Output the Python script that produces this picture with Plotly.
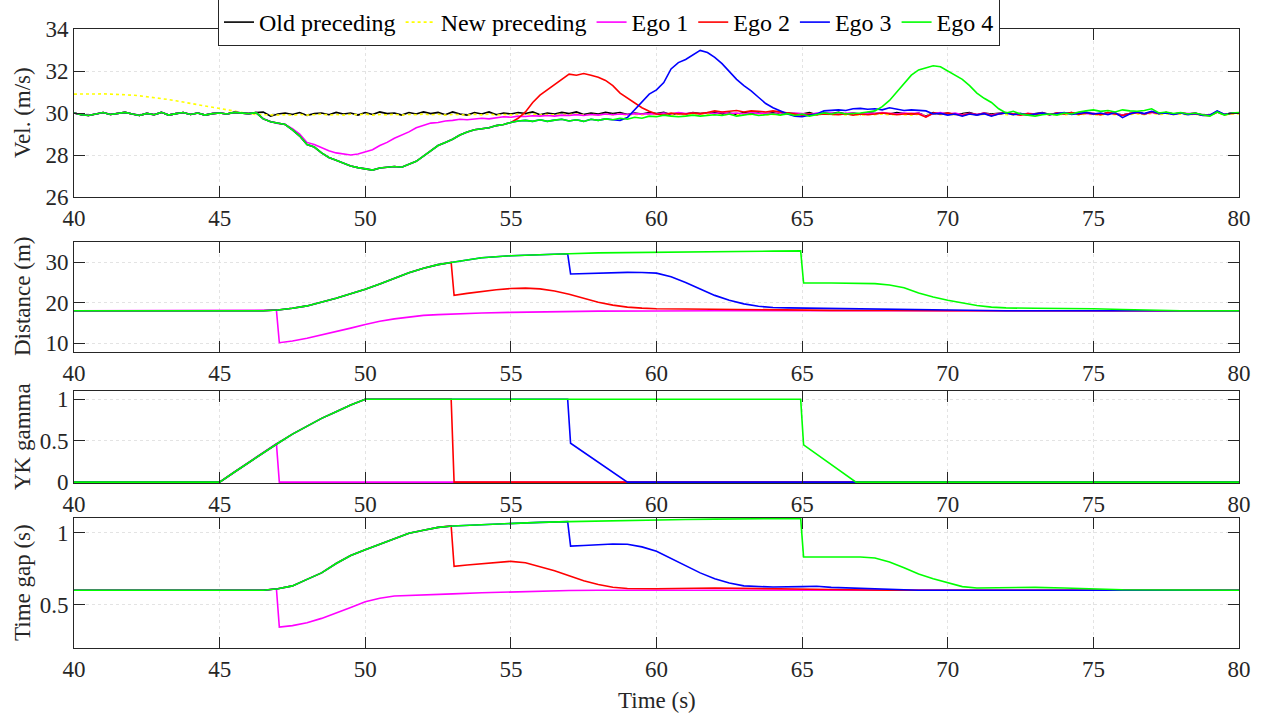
import plotly.graph_objects as go
from plotly.subplots import make_subplots

# ---------------- data ----------------
T_VEL = [round(40 + 0.25 * i, 2) for i in range(161)]

VEL_OLD = [
    30.00, 29.92, 29.88, 29.95, 30.02, 29.93, 29.97, 30.03, 29.95, 29.88, 29.98, 29.92,
    30.03, 29.90, 29.97, 30.02, 29.93, 30.00, 29.90, 29.97, 30.00, 29.95, 30.03, 30.00,
    29.97, 30.02, 30.05, 29.85, 29.95, 30.00, 29.93, 30.02, 29.88, 29.97, 30.00, 29.92,
    30.03, 29.95, 30.00, 29.90, 30.02, 29.93, 30.05, 29.97, 30.00, 29.90, 30.02, 29.95,
    30.05, 29.97, 30.03, 29.92, 30.05, 29.95, 29.90, 30.02, 29.95, 30.05, 29.92, 30.00,
    29.95, 30.02, 29.97, 30.05, 29.92, 30.00, 29.95, 30.03, 29.97, 30.05, 29.93, 30.00,
    29.95, 30.03, 29.97, 30.02, 29.93, 30.00, 29.95, 30.02, 29.97, 30.03, 29.92, 30.00,
    29.95, 30.02, 29.97, 30.00, 30.03, 29.95, 30.00, 29.93, 30.02, 29.97, 30.00, 29.95,
    30.02, 29.93, 30.00, 29.97, 29.95, 30.02, 29.92, 30.00, 29.97, 30.03, 29.95, 30.00,
    29.93, 30.02, 29.97, 30.00, 29.95, 30.02, 29.97, 29.93, 30.00, 29.85, 30.02, 29.95,
    30.00, 29.93, 29.97, 30.02, 29.92, 30.00, 29.95, 29.98, 30.02, 29.95, 29.97, 29.92,
    29.97, 30.02, 29.93, 30.00, 29.97, 30.02, 29.95, 30.00, 29.97, 29.93, 30.02, 29.95,
    29.90, 29.97, 30.03, 29.95, 30.05, 29.97, 30.02, 29.95, 30.00, 29.95, 29.98, 29.90,
    29.88, 30.08, 29.93, 30.00, 30.00,
]

VEL_NEW = [
    30.90, 30.91, 30.92, 30.92, 30.91, 30.90, 30.89, 30.87, 30.85, 30.82, 30.78, 30.74,
    30.69, 30.64, 30.58, 30.52, 30.45, 30.38, 30.32, 30.26, 30.19, 30.13, 30.07, 30.02,
    29.97, 29.93, 29.91, 29.90, 29.90, 29.92, 29.89, 29.93, 29.90, 29.92, 29.95, 29.90,
    29.93, 29.90, 29.94, 29.91, 29.95, 29.90, 29.93, 29.91, 29.94, 29.90, 29.93, 29.92,
    29.95, 29.91, 29.94, 29.90, 29.93, 29.92, 29.90, 29.94, 29.91, 29.95, 29.90, 29.93,
    29.91, 29.94, 29.92, 29.95, 29.90, 29.93, 29.91, 29.94, 29.92, 29.95, 29.90, 29.93,
    29.91, 29.94, 29.92, 29.95, 29.90, 29.93, 29.91, 29.94, 29.92, 29.95, 29.90, 29.93,
    29.91, 29.94, 29.92, 29.95, 29.93, 29.90, 29.94, 29.91, 29.95, 29.92, 29.94, 29.90,
    29.93, 29.91, 29.95, 29.92, 29.90, 29.94, 29.91, 29.95, 29.92, 29.95, 29.91, 29.94,
    29.90, 29.93, 29.92, 29.95, 29.91, 29.94, 29.92, 29.90, 29.94, 29.88, 29.95, 29.92,
    29.95, 29.91, 29.93, 29.95, 29.90, 29.94, 29.92, 29.95, 29.93, 29.91, 29.94, 29.90,
    29.93, 29.95, 29.91, 29.94, 29.92, 29.95, 29.91, 29.94, 29.93, 29.90, 29.95, 29.92,
    29.89, 29.93, 29.96, 29.92, 29.98, 29.93, 29.95, 29.92, 29.95, 29.92, 29.94, 29.89,
    29.88, 30.02, 29.91, 29.95, 29.95,
]

VEL_EGO4 = [
    30.00, 29.92, 29.88, 29.95, 30.02, 29.93, 29.97, 30.03, 29.95, 29.88, 29.98, 29.92,
    30.03, 29.90, 29.97, 30.02, 29.93, 30.00, 29.90, 29.97, 30.00, 29.95, 30.03, 30.00,
    29.97, 30.02, 29.72, 29.58, 29.50, 29.45, 29.20, 28.90, 28.50, 28.38, 28.10, 27.88,
    27.75, 27.60, 27.48, 27.40, 27.35, 27.28, 27.38, 27.42, 27.45, 27.42, 27.55, 27.70,
    27.95, 28.20, 28.45, 28.60, 28.75, 28.95, 29.10, 29.20, 29.25, 29.30, 29.40, 29.45,
    29.55, 29.62, 29.65, 29.60, 29.68, 29.60, 29.66, 29.70, 29.62, 29.68, 29.60, 29.70,
    29.65, 29.72, 29.68, 29.75, 29.70, 29.80, 29.75, 29.85, 29.82, 29.90, 29.85, 29.82,
    29.85, 29.90, 29.85, 29.88, 29.92, 29.88, 29.95, 29.85, 29.90, 29.95, 29.88, 29.93,
    29.95, 29.90, 29.97, 29.88, 29.95, 29.85, 29.93, 30.00, 29.95, 30.02, 29.95, 29.97,
    30.00, 30.05, 30.10, 30.30, 30.60, 31.00, 31.40, 31.80, 32.05, 32.15, 32.25, 32.20,
    32.00, 31.80, 31.60, 31.30, 30.95, 30.70, 30.50, 30.20, 30.00, 30.08, 29.95, 29.90,
    29.85, 29.92, 29.95, 29.90, 30.00, 29.95, 30.05, 30.10, 30.15, 30.08, 30.12, 30.05,
    30.15, 30.10, 30.08, 30.12, 30.20, 30.00, 30.05, 29.98, 30.02, 29.95, 30.00, 29.92,
    29.85, 30.05, 29.90, 30.00, 30.02,
]

# Ego 1 from t = 46.75 s
VEL_EGO1_TAIL = [
    29.60,
    29.50, 29.45, 29.25, 29.00, 28.60, 28.50, 28.35, 28.20, 28.10, 28.05, 28.00, 28.05,
    28.15, 28.25, 28.45, 28.60, 28.80, 28.95, 29.10, 29.30, 29.40, 29.52, 29.55, 29.62,
    29.65, 29.70, 29.68, 29.72, 29.75, 29.72, 29.78, 29.82, 29.80, 29.85, 29.83, 29.87,
    29.85, 29.88, 29.85, 29.90, 29.88, 29.92, 29.88, 29.93, 29.90, 29.95, 29.92, 29.95,
    29.93, 29.97, 29.95, 29.97, 29.95, 30.00, 29.95, 30.02, 29.97, 30.00, 29.95, 30.02,
    29.98, 30.03, 29.97, 30.00, 29.95, 30.02, 29.97, 30.00, 29.97, 30.02, 29.95, 30.00,
    29.97, 29.93, 30.00, 29.95, 30.00, 29.95, 29.98, 30.00, 29.95, 30.00, 29.97, 30.02,
    29.98, 29.95, 30.00, 29.97, 30.00, 29.82, 29.98, 30.02, 29.95, 30.00, 29.92, 29.98,
    29.93, 30.00, 29.90, 29.97, 30.00, 29.95, 29.92, 29.98, 29.95, 30.00, 29.93, 29.98,
    30.00, 29.95, 30.02, 29.97, 29.98, 29.93, 30.00, 29.95, 29.90, 29.98, 30.02, 29.95,
    30.03, 29.98, 30.00, 29.95, 30.00, 29.97, 29.98, 29.92, 29.90, 30.05, 29.93, 30.00,
    30.00,
]

# Ego 2 from t = 55.25 s
VEL_EGO2_TAIL = [
    29.75, 30.05, 30.50,
    30.85, 31.10, 31.35, 31.60, 31.85, 31.80, 31.88, 31.80, 31.70, 31.55, 31.30, 30.95,
    30.72, 30.50, 30.25, 30.08, 29.95, 29.92, 30.00, 29.95, 29.95, 30.00, 29.97, 30.02,
    30.10, 30.05, 30.08, 30.12, 30.05, 30.10, 30.08, 30.05, 30.10, 30.05, 30.00, 29.95,
    29.90, 29.95, 29.92, 29.95, 29.95, 29.92, 29.97, 29.90, 29.95, 29.92, 29.95, 30.00,
    29.97, 29.92, 29.95, 29.97, 29.95, 29.80, 30.00, 29.95, 30.00, 29.95, 29.88, 29.97,
    29.92, 29.98, 29.88, 29.95, 30.00, 29.95, 29.90, 29.97, 29.93, 29.98, 29.92, 30.00,
    29.95, 30.02, 29.93, 30.00, 29.97, 29.92, 30.02, 29.95, 29.88, 29.97, 30.02, 29.95,
    30.05, 29.98, 30.02, 29.95, 30.00, 29.95, 29.98, 29.90, 29.88, 30.05, 29.92, 29.98,
    30.00,
]

# Ego 3 from t = 58.75 s
VEL_EGO3_TAIL = [
    29.65,
    29.78, 30.15, 30.50, 30.90, 31.10, 31.45, 32.10, 32.40, 32.55, 32.75, 32.98, 32.88,
    32.65, 32.35, 31.95, 31.60, 31.30, 31.05, 30.75, 30.45, 30.25, 30.10, 29.95, 29.85,
    29.82, 29.90, 29.95, 30.10, 30.12, 30.15, 30.12, 30.20, 30.22, 30.18, 30.20, 30.15,
    30.25, 30.18, 30.12, 30.15, 30.12, 30.10, 29.95, 29.98, 29.90, 29.95, 29.85, 29.95,
    29.90, 29.97, 29.85, 29.95, 30.00, 29.92, 29.97, 29.90, 29.95, 30.00, 29.92, 29.97,
    30.02, 29.93, 29.98, 30.03, 29.95, 30.00, 29.92, 30.02, 29.78, 29.95, 30.05, 29.97,
    30.08, 29.98, 30.00, 29.93, 30.00, 29.92, 29.98, 29.88, 29.90, 30.10, 29.93, 30.00,
    30.00,
]

VEL_EGO1 = VEL_EGO4[:27] + VEL_EGO1_TAIL
VEL_EGO2 = VEL_EGO4[:61] + VEL_EGO2_TAIL
VEL_EGO3 = VEL_EGO4[:75] + VEL_EGO3_TAIL

# Distance (m)
DIST_T_EGO1 = [40, 46.5, 46.95, 47.05, 47.5, 48, 48.5, 49, 49.5, 50, 50.5, 51, 51.5, 52, 52.5,
               53, 54, 55, 56, 57, 58, 60, 62, 80]
DIST_EGO1 = [18.0, 18.0, 18.15, 10.1, 10.5, 11.2, 12.0, 12.8, 13.7, 14.6, 15.4, 16.0, 16.5,
             16.85, 17.05, 17.2, 17.45, 17.6, 17.75, 17.85, 17.9, 17.95, 18.0, 18.0]

DIST_T_EGO2 = [40, 46.5, 47, 47.5, 48, 48.5, 49, 49.5, 50, 50.5, 51, 51.5, 52, 52.5, 52.95,
               53.05, 53.5, 54, 54.5, 55, 55.5, 56, 56.5, 57, 57.5, 58, 58.5, 59, 59.5, 60,
               61, 62, 63, 64, 65, 66, 68, 70, 80]
DIST_EGO2 = [18.0, 18.0, 18.2, 18.6, 19.2, 20.1, 21.1, 22.2, 23.3, 24.6, 26.0, 27.4, 28.5,
             29.4, 29.95, 21.8, 22.3, 22.8, 23.2, 23.5, 23.6, 23.4, 22.9, 22.1, 21.1, 20.1,
             19.4, 18.9, 18.65, 18.5, 18.45, 18.35, 18.3, 18.2, 18.1, 18.1, 18.05, 18.0, 18.0]

DIST_T_EGO3 = [40, 46.5, 47, 47.5, 48, 48.5, 49, 49.5, 50, 50.5, 51, 51.5, 52, 52.5, 53, 53.5,
               54, 55, 56, 56.95, 57.05, 57.5, 58, 58.5, 59, 59.5, 60, 60.5, 61, 61.5, 62,
               62.5, 63, 63.5, 64, 64.5, 65, 66, 67, 68, 69, 70, 72, 80]
DIST_EGO3 = [18.0, 18.0, 18.2, 18.6, 19.2, 20.1, 21.1, 22.2, 23.3, 24.6, 26.0, 27.4, 28.5,
             29.4, 30.0, 30.6, 31.1, 31.6, 31.9, 32.08, 27.1, 27.2, 27.35, 27.45, 27.5, 27.45,
             27.3, 26.4, 25.0, 23.4, 21.8, 20.6, 19.7, 19.1, 18.8, 18.7, 18.65, 18.65, 18.55,
             18.35, 18.2, 18.08, 18.0, 18.0]

DIST_T_EGO4 = [40, 46.5, 47, 47.5, 48, 48.5, 49, 49.5, 50, 50.5, 51, 51.5, 52, 52.5, 53, 53.5,
               54, 55, 56, 57, 58, 59, 60, 62, 64, 64.95, 65.05, 66, 67, 67.5, 68, 68.5, 69,
               69.5, 70, 70.5, 71, 71.5, 72, 73, 74, 75, 76, 77, 78, 80]
DIST_EGO4 = [18.0, 18.0, 18.2, 18.6, 19.2, 20.1, 21.1, 22.2, 23.3, 24.6, 26.0, 27.4, 28.5,
             29.4, 30.0, 30.6, 31.1, 31.6, 31.9, 32.1, 32.3, 32.4, 32.5, 32.65, 32.75, 32.8,
             24.85, 24.85, 24.8, 24.7, 24.35, 23.7, 22.4, 21.4, 20.6, 19.9, 19.3, 18.9, 18.7,
             18.6, 18.6, 18.5, 18.3, 18.1, 18.0, 18.0]

# YK gamma
GAM_RISE_T = [40, 45, 45.5, 46, 46.5, 47, 47.5, 48, 48.5, 49, 49.5, 50]
GAM_RISE = [0, 0, 0.12, 0.24, 0.36, 0.47, 0.58, 0.68, 0.77, 0.85, 0.93, 1.0]
GAM_T_EGO1 = [40, 45, 45.5, 46, 46.5, 46.95, 47.05, 80]
GAM_EGO1 = [0, 0, 0.12, 0.24, 0.36, 0.465, 0, 0]
GAM_T_EGO2 = GAM_RISE_T + [52.95, 53.05, 80]
GAM_EGO2 = GAM_RISE + [1.0, 0, 0]
GAM_T_EGO3 = GAM_RISE_T + [56.95, 57.05, 59.0, 80]
GAM_EGO3 = GAM_RISE + [1.0, 0.47, 0, 0]
GAM_T_EGO4 = GAM_RISE_T + [64.95, 65.05, 66.85, 80]
GAM_EGO4 = GAM_RISE + [1.0, 0.45, 0, 0]

# Time gap (s)
TG_T_EGO1 = [40, 46.5, 46.95, 47.05, 47.5, 48, 48.5, 49, 49.5, 50, 50.5, 51, 51.5, 52, 53, 54,
             55, 56, 57, 58, 80]
TG_EGO1 = [0.6, 0.6, 0.61, 0.345, 0.355, 0.375, 0.405, 0.44, 0.48, 0.52, 0.545, 0.56, 0.565,
           0.57, 0.575, 0.582, 0.588, 0.593, 0.598, 0.6, 0.6]
TG_T_EGO2 = [40, 46.5, 47, 47.5, 48, 48.5, 49, 49.5, 50, 50.5, 51, 51.5, 52, 52.5, 52.95, 53.05,
             53.5, 54, 54.5, 55, 55.5, 56, 56.5, 57, 57.5, 58, 58.5, 59, 60, 62, 64, 66, 68, 80]
TG_EGO2 = [0.6, 0.6, 0.61, 0.63, 0.675, 0.72, 0.785, 0.84, 0.88, 0.92, 0.96, 0.995, 1.015,
           1.035, 1.045, 0.765, 0.775, 0.785, 0.795, 0.8, 0.79, 0.765, 0.735, 0.7, 0.665, 0.64,
           0.62, 0.612, 0.61, 0.615, 0.612, 0.605, 0.6, 0.6]
TG_T_EGO3 = [40, 46.5, 47, 47.5, 48, 48.5, 49, 49.5, 50, 50.5, 51, 51.5, 52, 52.5, 53, 54, 55,
             56, 56.95, 57.05, 57.5, 58, 58.5, 59, 59.5, 60, 60.5, 61, 61.5, 62, 62.5, 63, 64,
             65, 65.5, 66, 67, 68, 69, 80]
TG_EGO3 = [0.6, 0.6, 0.61, 0.63, 0.675, 0.72, 0.785, 0.84, 0.88, 0.92, 0.96, 0.995, 1.015,
           1.035, 1.045, 1.055, 1.065, 1.07, 1.075, 0.905, 0.91, 0.915, 0.92, 0.918, 0.9, 0.87,
           0.82, 0.77, 0.72, 0.68, 0.65, 0.63, 0.622, 0.625, 0.627, 0.62, 0.612, 0.605, 0.6, 0.6]
TG_T_EGO4 = [40, 46.5, 47, 47.5, 48, 48.5, 49, 49.5, 50, 50.5, 51, 51.5, 52, 52.5, 53, 54, 55,
             56, 57, 58, 59, 60, 61, 62, 63, 64, 64.95, 65.05, 66, 67, 67.5, 68, 68.5, 69, 69.5,
             70, 70.5, 71, 72, 73, 74, 75, 76, 80]
TG_EGO4 = [0.6, 0.6, 0.61, 0.63, 0.675, 0.72, 0.785, 0.84, 0.88, 0.92, 0.96, 0.995, 1.015,
           1.035, 1.045, 1.055, 1.065, 1.07, 1.075, 1.08, 1.085, 1.088, 1.09, 1.092, 1.094,
           1.096, 1.097, 0.83, 0.83, 0.83, 0.823, 0.795, 0.755, 0.712, 0.68, 0.65, 0.625,
           0.615, 0.62, 0.62, 0.615, 0.61, 0.603, 0.6]

NAMES = ["Old preceding", "New preceding", "Ego 1", "Ego 2", "Ego 3", "Ego 4"]
COLORS = ["#000000", "#FFFF00", "#FF00FF", "#FF0000", "#0000FF", "#00FF00"]
Y_TITLES = ["Vel. (m/s)", "Distance (m)", "YK gamma", "Time gap (s)"]
Y_RANGES = [[26, 34], [7.8, 35], [-0.01, 1.1], [0.2, 1.1]]
Y_TICKS = [[26, 28, 30, 32, 34], [10, 20, 30], [0, 0.5, 1], [0.5, 1]]
X_TICKS = [40, 45, 50, 55, 60, 65, 70, 75, 80]

# ---------------- figure ----------------
FONT = "Liberation Serif"
FS = 23
W, H = 1264, 720
ML, MR, MT, MB = 74, 25, 29, 72
PH = H - MT - MB
PW = W - ML - MR

def dom(top_px, bot_px):
    return [(H - MB - bot_px) / PH, (H - MB - top_px) / PH]

DOMAINS = [dom(29, 197), dom(242, 352), dom(391, 483), dom(518, 648)]

fig = make_subplots(rows=4, cols=1)
LW = 1.6

vel_series = [VEL_OLD, VEL_NEW, VEL_EGO1, VEL_EGO2, VEL_EGO3, VEL_EGO4]
for i, ys in enumerate(vel_series):
    fig.add_trace(go.Scatter(
        x=T_VEL, y=ys, mode="lines", name=NAMES[i],
        line=dict(color=COLORS[i], width=LW, dash="dot" if i == 1 else "solid"),
        showlegend=True), row=1, col=1)

panel_data = [
    [(DIST_T_EGO1, DIST_EGO1), (DIST_T_EGO2, DIST_EGO2), (DIST_T_EGO3, DIST_EGO3), (DIST_T_EGO4, DIST_EGO4)],
    [(GAM_T_EGO1, GAM_EGO1), (GAM_T_EGO2, GAM_EGO2), (GAM_T_EGO3, GAM_EGO3), (GAM_T_EGO4, GAM_EGO4)],
    [(TG_T_EGO1, TG_EGO1), (TG_T_EGO2, TG_EGO2), (TG_T_EGO3, TG_EGO3), (TG_T_EGO4, TG_EGO4)],
]
for p, series in enumerate(panel_data):
    for k, (tx, ty) in enumerate(series):
        fig.add_trace(go.Scatter(
            x=tx, y=ty, mode="lines", name=NAMES[k + 2],
            line=dict(color=COLORS[k + 2], width=LW), showlegend=False), row=p + 2, col=1)

AX = "#262626"
GRID = "#e3e3e3"
for r in range(4):
    xa = "xaxis" if r == 0 else f"xaxis{r + 1}"
    ya = "yaxis" if r == 0 else f"yaxis{r + 1}"
    common = dict(showgrid=True, gridcolor=GRID, griddash="dot", gridwidth=1, zeroline=False,
                  showline=True, linecolor=AX, linewidth=1, mirror="ticks",
                  ticks="inside", ticklen=11, tickcolor=AX, tickwidth=1,
                  tickfont=dict(family=FONT, size=FS, color=AX))
    fig.update_layout(**{
        xa: dict(domain=[0, 1], range=[40, 80], tickvals=X_TICKS, **common),
        ya: dict(domain=DOMAINS[r], range=Y_RANGES[r], tickvals=Y_TICKS[r], **common),
    })

ann = []
for r in range(4):
    ann.append(dict(text=Y_TITLES[r], xref="paper", yref="paper",
                    x=(22 - ML) / PW, y=(DOMAINS[r][0] + DOMAINS[r][1]) / 2,
                    xanchor="center", yanchor="middle", textangle=-90, showarrow=False,
                    font=dict(family=FONT, size=FS, color=AX)))
ann.append(dict(text="Time (s)", xref="paper", yref="paper", x=0.5,
                y=(H - MB - 700) / PH, xanchor="center", yanchor="middle", showarrow=False,
                font=dict(family=FONT, size=FS, color=AX)))

fig.update_layout(
    width=W, height=H,
    margin=dict(l=ML, r=MR, t=MT, b=MB, autoexpand=False),
    plot_bgcolor="white", paper_bgcolor="white",
    annotations=ann,
    legend=dict(orientation="h", x=(218 - ML) / PW, y=(H - MB + 1) / PH,
                xanchor="left", yanchor="top", bgcolor="white", bordercolor=AX,
                borderwidth=1, font=dict(family=FONT, size=24, color="#000000"),
                itemwidth=30, tracegroupgap=0),
)

fig.write_html(
    "out.html",
    config={"displayModeBar": False},
    post_script="document.body.style.margin='0px';document.body.style.overflow='hidden';",
)
